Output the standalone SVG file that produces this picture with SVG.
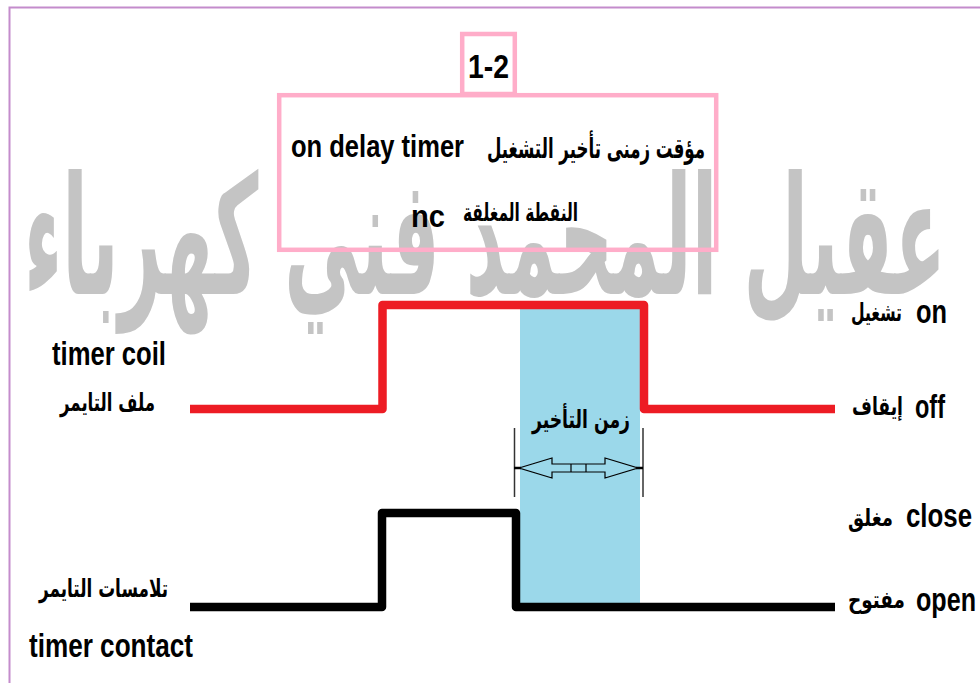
<svg xmlns="http://www.w3.org/2000/svg" width="980" height="683" viewBox="0 0 980 683">
  <style>
    .lat { font-family: "Liberation Sans", Arial, sans-serif; font-weight: bold; fill: #000; }
    .ar { font-family: "DejaVu Sans", "Noto Sans", sans-serif; font-weight: bold; fill: #000; }
    .pink { fill: none; stroke: #ffadc9; stroke-width: 4.5; }
    .wave { fill: none; stroke-width: 8.5; stroke-linejoin: round; }
  </style>
  <rect width="980" height="683" fill="#fff"/>

  <!-- page frame -->
  <g id="frame" fill="none" stroke="#c48ccc" stroke-width="2">
    <path d="M980 7.5 H9.5 V683"/>
  </g>

  <!-- background watermark -->
  <g id="watermark">
    <text x="24" y="294" font-family="'DejaVu Sans', sans-serif" font-weight="bold" font-size="165" fill="#c4c4c4" textLength="922" lengthAdjust="spacingAndGlyphs">عقيل المحمد فني كهرباء</text>
  </g>

  <!-- title -->
  <g id="badge">
    <rect class="pink" x="462.2" y="34" width="52.6" height="60"/>
    <text class="lat" x="468" y="78" font-size="34" textLength="41" lengthAdjust="spacingAndGlyphs">1-2</text>
  </g>
  <g id="title">
    <rect class="pink" x="279.2" y="95.2" width="437" height="154.6"/>
    <text class="lat" x="291" y="157" font-size="32" textLength="173" lengthAdjust="spacingAndGlyphs">on delay timer</text>
    <text class="ar" x="487" y="158" font-size="28" textLength="218" lengthAdjust="spacingAndGlyphs">مؤقت زمنى تأخير التشغيل</text>
    <text class="lat" x="411" y="227" font-size="32" textLength="34" lengthAdjust="spacingAndGlyphs">nc</text>
    <text class="ar" x="463" y="221" font-size="25" textLength="115" lengthAdjust="spacingAndGlyphs">النقطة المغلقة</text>
  </g>

  <!-- delay interval -->
  <g id="delay">
    <rect x="520" y="305" width="120" height="298" fill="#9bd8ea"/>
    <text class="ar" x="532" y="428" font-size="25" textLength="98" lengthAdjust="spacingAndGlyphs">زمن التأخير</text>
    <g stroke="#333" stroke-width="1.5" fill="none">
      <line x1="514.5" y1="428" x2="514.5" y2="497"/>
      <line x1="643" y1="428" x2="643" y2="497"/>
    </g>
    <g stroke="#000" stroke-width="1.2" fill="none">
      <polygon points="519,468 552,458 552,464 605,464 605,458 638,468 605,478 605,472 552,472 552,478"/>
      <line x1="571" y1="464" x2="571" y2="472"/>
      <line x1="586" y1="464" x2="586" y2="472"/>
    </g>
    <g stroke="#000" stroke-width="2.5">
      <line x1="514" y1="468" x2="521" y2="468"/>
      <line x1="636" y1="468" x2="643" y2="468"/>
    </g>
  </g>

  <!-- signal traces -->
  <g id="connectors">
    <path class="wave" stroke="#ed1c24" d="M190 409 H382.5 V305 H644 V409 H835"/>
    <path class="wave" stroke="#000" d="M190 607 H382 V513 H516 V607 H835"/>
  </g>

  <!-- left captions -->
  <g id="coil-label">
    <text class="lat" x="52" y="365" font-size="34" textLength="114" lengthAdjust="spacingAndGlyphs">timer coil</text>
    <text class="ar" x="60" y="411" font-size="25" textLength="95" lengthAdjust="spacingAndGlyphs">ملف التايمر</text>
  </g>
  <g id="contact-label">
    <text class="ar" x="39" y="597" font-size="25" textLength="129" lengthAdjust="spacingAndGlyphs">تلامسات التايمر</text>
    <text class="lat" x="29" y="657" font-size="33" textLength="164" lengthAdjust="spacingAndGlyphs">timer contact</text>
  </g>

  <!-- right state captions -->
  <g id="state-on">
    <text class="ar" x="851" y="321" font-size="25" textLength="51" lengthAdjust="spacingAndGlyphs">تشغيل</text>
    <text class="lat" x="916" y="323" font-size="34" textLength="31" lengthAdjust="spacingAndGlyphs">on</text>
  </g>
  <g id="state-off">
    <text class="ar" x="852" y="415" font-size="25" textLength="51" lengthAdjust="spacingAndGlyphs">إيقاف</text>
    <text class="lat" x="915" y="418" font-size="34" textLength="30" lengthAdjust="spacingAndGlyphs">off</text>
  </g>
  <g id="state-close">
    <text class="ar" x="848" y="526" font-size="24" textLength="45" lengthAdjust="spacingAndGlyphs">مغلق</text>
    <text class="lat" x="906" y="527" font-size="33" textLength="66" lengthAdjust="spacingAndGlyphs">close</text>
  </g>
  <g id="state-open">
    <text class="ar" x="848" y="608" font-size="24" textLength="57" lengthAdjust="spacingAndGlyphs">مفتوح</text>
    <text class="lat" x="916" y="611" font-size="33" textLength="60" lengthAdjust="spacingAndGlyphs">open</text>
  </g>
</svg>
